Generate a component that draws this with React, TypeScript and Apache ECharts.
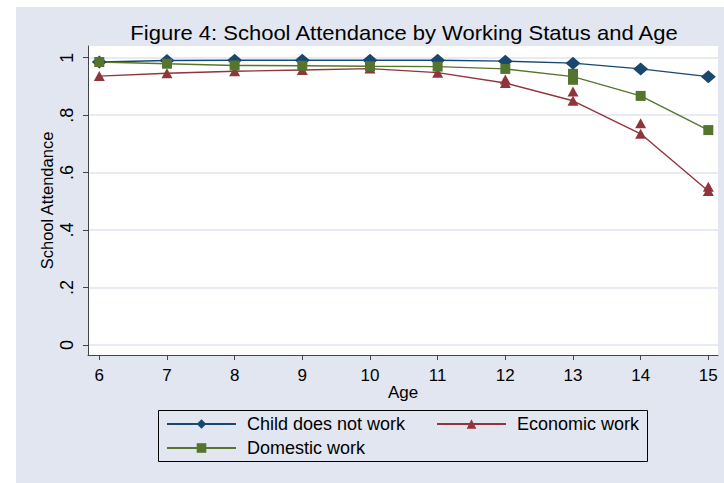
import React, { useEffect, useRef } from "react";
import * as echarts from "echarts";

// ---- data ----
const ages = [6, 7, 8, 9, 10, 11, 12, 13, 14, 15];
const notWork = [0.985, 0.99, 0.991, 0.991, 0.991, 0.991, 0.988, 0.981, 0.961, 0.934];
const economic = [0.936, 0.946, 0.953, 0.957, 0.962, 0.948, 0.912, 0.85, 0.735, 0.536];
const domestic = [0.985, 0.979, 0.973, 0.972, 0.97, 0.969, 0.961, 0.934, 0.867, 0.748];
// additional (duplicate) observations shown as markers
const economicExtraAges = [12, 13, 14, 15];
const economicExtra = [0.924, 0.882, 0.772, 0.551];
const domesticExtraAges = [13, 13];
const domesticExtra = [0.944, 0.923];
const yTicks = [0, 0.2, 0.4, 0.6, 0.8, 1];
const yTickLabels = ["0", ".2", ".4", ".6", ".8", "1"];
const xTicks = [6, 7, 8, 9, 10, 11, 12, 13, 14, 15];
const seriesNames = ["Child does not work", "Economic work", "Domestic work"];
const titleText = "Figure 4: School Attendance by Working Status and Age";

const NAVY = "#1a476f";
const MAROON = "#90353b";
const GREEN = "#55752f";
const BG = "#e1e6f0";
const GRIDC = "#dfe5ef";
const AXISC = "#444444";
const FONT = "'Liberation Sans', Arial, sans-serif";

export default function App() {
  const ref = useRef<HTMLDivElement>(null);
  useEffect(() => {
    if (!ref.current) return;
    const chart = echarts.init(ref.current, undefined, { renderer: "svg" });
    const legendCommon = {
      orient: "vertical",
      itemWidth: 69,
      itemHeight: 12,
      itemGap: 4,
      padding: 0,
      textStyle: { fontSize: 18, lineHeight: 20, color: "#000", fontFamily: FONT, padding: [0, 0, 0, 6] },
    };
    const option: any = {
      animation: false,
      backgroundColor: "#ffffff",
      graphic: [
        {
          type: "rect",
          silent: true,
          z: -100,
          shape: { x: 16, y: 7, width: 708, height: 476 },
          style: { fill: BG },
        },
        {
          type: "rect",
          silent: true,
          z: 100,
          shape: { x: 158.5, y: 410.5, width: 489, height: 51 },
          style: { fill: "none", stroke: "#000", lineWidth: 1 },
        },
        {
          type: "text",
          silent: true,
          x: 404,
          y: 33,
          scaleX: 1.1,
          style: {
            text: titleText,
            align: "center",
            verticalAlign: "middle",
            fontSize: 20,
            fontFamily: FONT,
            fill: "#000",
          },
        },
      ],
      grid: {
        left: 88,
        top: 46,
        width: 630,
        height: 309,
        show: true,
        backgroundColor: "#ffffff",
        borderWidth: 0,
        containLabel: false,
      },
      xAxis: {
        type: "value",
        min: 5.833,
        max: 15.143,
        axisLine: { show: true, onZero: false, lineStyle: { color: AXISC, width: 1 } },
        axisTick: { show: true, length: 5, customValues: xTicks, lineStyle: { color: AXISC } },
        axisLabel: { customValues: xTicks, fontSize: 17, color: "#000", margin: 12, fontFamily: FONT },
        splitLine: { show: false },
        name: "Age",
        nameLocation: "middle",
        nameGap: 29,
        nameMoveOverlap: false,
        nameTextStyle: { fontSize: 17, color: "#000", fontFamily: FONT },
      },
      yAxis: {
        type: "value",
        min: -0.0348,
        max: 1.0407,
        axisLine: { show: true, onZero: false, lineStyle: { color: AXISC, width: 1 } },
        axisTick: { show: true, length: 5, customValues: yTicks, lineStyle: { color: AXISC } },
        axisLabel: {
          customValues: yTicks,
          rotate: 90,
          fontSize: 18,
          color: "#000",
          margin: 12,
          fontFamily: FONT,
          formatter: (v: number) => {
            const i = yTicks.findIndex((t) => Math.abs(t - v) < 1e-6);
            return i >= 0 ? yTickLabels[i] : "";
          },
        },
        splitLine: { show: true, lineStyle: { color: GRIDC, width: 1.5 } },
        name: "School Attendance",
        nameLocation: "middle",
        nameGap: 33,
        nameMoveOverlap: false,
        nameTextStyle: { fontSize: 16.5, color: "#000", fontFamily: FONT },
      },
      legend: [
        { ...legendCommon, data: [seriesNames[0], seriesNames[2]], left: 166, top: 414 },
        { ...legendCommon, data: [seriesNames[1]], left: 436, top: 414 },
      ],
      series: [
        {
          name: seriesNames[0],
          type: "line",
          data: ages.map((a, i) => [a, notWork[i]]),
          symbol: "diamond",
          symbolSize: [15, 13],
          itemStyle: { color: NAVY },
          lineStyle: { color: NAVY, width: 1.4 },
        },
        {
          name: seriesNames[1],
          type: "line",
          data: ages.map((a, i) => [a, economic[i]]),
          symbol: "triangle",
          symbolSize: [11, 10],
          itemStyle: { color: MAROON },
          lineStyle: { color: MAROON, width: 1.4 },
        },
        {
          name: seriesNames[1] + " (extra)",
          type: "scatter",
          data: economicExtraAges.map((a, i) => [a, economicExtra[i]]),
          symbol: "triangle",
          symbolSize: [11, 10],
          itemStyle: { color: MAROON, opacity: 1 },
        },
        {
          name: seriesNames[2],
          type: "line",
          data: ages.map((a, i) => [a, domestic[i]]),
          symbol: "rect",
          symbolSize: [10, 10],
          itemStyle: { color: GREEN },
          lineStyle: { color: GREEN, width: 1.4 },
        },
        {
          name: seriesNames[2] + " (extra)",
          type: "scatter",
          data: domesticExtraAges.map((a, i) => [a, domesticExtra[i]]),
          symbol: "rect",
          symbolSize: [10, 10],
          itemStyle: { color: GREEN, opacity: 1 },
        },
      ],
    };
    chart.setOption(option);
    return () => chart.dispose();
  }, []);
  return (
    <div
      ref={ref}
      style={{ position: "absolute", left: 0, top: 0, width: 724, height: 483 }}
    />
  );
}
